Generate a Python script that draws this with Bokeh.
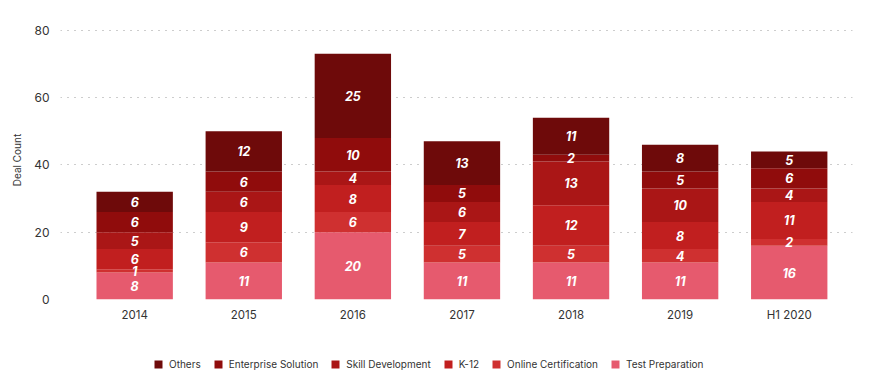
from bokeh.plotting import figure
from bokeh.layouts import column
from bokeh.models import Range1d, Legend, LegendItem, ColumnDataSource, FixedTicker
from bokeh.core.properties import value
from bokeh.embed import file_html
from bokeh.resources import INLINE

periods = ["2014", "2015", "2016", "2017", "2018", "2019", "H1 2020"]
test_prep = [8, 11, 20, 11, 11, 11, 16]
online_cert = [1, 6, 6, 5, 5, 4, 2]
k12 = [6, 9, 8, 7, 12, 8, 11]
skill_dev = [5, 6, 4, 6, 13, 10, 4]
enterprise = [6, 6, 10, 5, 2, 5, 6]
others = [6, 12, 25, 13, 11, 8, 5]

series_names = ["Test Preparation", "Online Certification", "K-12",
                "Skill Development", "Enterprise Solution", "Others"]
series_vals = [test_prep, online_cert, k12, skill_dev, enterprise, others]
colors = ["#e65a6e", "#cf3030", "#c11f1f", "#aa1616", "#900c0c", "#6e0a0a"]
y_ticks = [0, 20, 40, 60, 80]

FONT = "Inter"
xs = list(range(len(periods)))

p = figure(width=866, height=324, output_backend="svg", toolbar_location=None,
           x_range=Range1d(-0.68, 6.58), y_range=Range1d(0, 82.9),
           min_border_left=60, min_border_right=14, min_border_top=20,
           min_border_bottom=22)
p.outline_line_color = None
p.background_fill_color = "white"

# grid
p.xgrid.visible = False
p.ygrid.ticker = FixedTicker(ticks=y_ticks)
p.ygrid.grid_line_color = "#9a9a9a"
p.ygrid.grid_line_dash = "1 6"
p.ygrid.grid_line_width = 1

data = {"x": xs}
for name, vals in zip(series_names, series_vals):
    data[name] = vals
src = ColumnDataSource(data)
rends = p.vbar_stack(series_names, x="x", width=0.7, source=src,
                     color=colors, line_color=None)

# labels
lx, ly, lt = [], [], []
for i in xs:
    base = 0
    for vals in series_vals:
        v = vals[i]
        lx.append(i)
        ly.append(base + v / 2)
        lt.append(str(v))
        base += v
p.text(x=lx, y=ly, text=lt, text_align="center", text_baseline="middle",
       text_color="white", text_font=value(FONT), text_font_size="12.5px",
       text_font_style="bold italic")

# axes
p.yaxis.ticker = FixedTicker(ticks=y_ticks)
p.yaxis.axis_line_color = None
p.yaxis.major_tick_line_color = None
p.yaxis.minor_tick_line_color = None
p.yaxis.major_label_text_font = FONT
p.yaxis.major_label_text_font_size = "12px"
p.yaxis.major_label_text_color = "#333333"
p.yaxis.major_label_standoff = 5
p.yaxis.axis_label = "Deal Count"
p.yaxis.axis_label_text_font = FONT
p.yaxis.axis_label_text_font_size = "10px"
p.yaxis.axis_label_text_font_style = "normal"
p.yaxis.axis_label_text_color = "#333333"
p.yaxis.axis_label_standoff = 8

p.xaxis.ticker = FixedTicker(ticks=xs)
p.xaxis.major_label_overrides = {i: lab for i, lab in zip(xs, periods)}
p.xaxis.axis_line_color = None
p.xaxis.major_tick_line_color = None
p.xaxis.minor_tick_line_color = None
p.xaxis.major_label_text_font = FONT
p.xaxis.major_label_text_font_size = "11.5px"
p.xaxis.major_label_text_color = "#333333"
p.xaxis.major_label_standoff = 2

# legend strip (bars drawn out of its visible range, used only as legend proxies)
lg = figure(width=866, height=50, output_backend="svg", toolbar_location=None,
            x_range=Range1d(100, 101), y_range=Range1d(100, 101),
            x_axis_location=None, y_axis_location=None,
            min_border_left=0, min_border_right=0, min_border_top=0,
            min_border_bottom=0)
lg.grid.visible = False
lg.outline_line_color = None
lr = lg.vbar_stack(series_names, x="x", width=0.7, source=src,
                   color=colors, line_color=None)
items = [LegendItem(label=n, renderers=[r]) for n, r in zip(series_names, lr)]
items = items[::-1]
legend = Legend(items=items, orientation="horizontal", location=(93, 4),
                label_text_font=FONT, label_text_font_size="10px",
                label_text_color="#333333", glyph_width=10, glyph_height=10,
                spacing=12, label_standoff=6, padding=0, margin=0,
                border_line_alpha=0, background_fill_alpha=0)
lg.add_layout(legend, "center")

layout = column(p, lg, spacing=0)
open("out.html", "w").write(file_html(layout, INLINE))
